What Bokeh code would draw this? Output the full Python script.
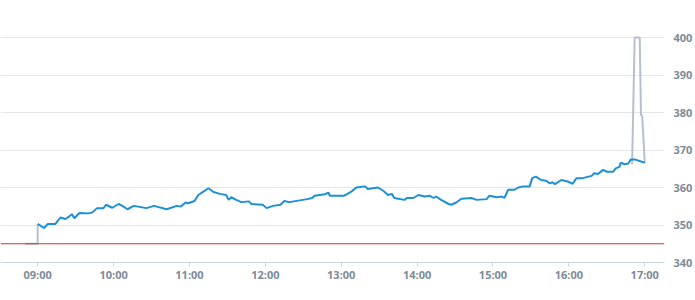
import pandas as pd
from bokeh.plotting import figure
from bokeh.models import Range1d, FixedTicker, DatetimeTickFormatter, Span
from bokeh.embed import file_html
from bokeh.resources import INLINE

DAY = "2024-01-02 "

# main price series (blue)
price_times = [
    "09:00", "09:05", "09:08", "09:14", "09:18", "09:22", "09:25", "09:27", "09:29", "09:33",
    "09:40", "09:43", "09:47", "09:52", "09:54", "09:59", "10:04", "10:07", "10:11", "10:16",
    "10:26", "10:32", "10:42", "10:50", "10:53", "10:57", "10:59", "11:04", "11:07", "11:11",
    "11:15", "11:19", "11:24", "11:29", "11:31", "11:33", "11:37", "11:41", "11:47", "11:49",
    "11:58", "12:01", "12:06", "12:12", "12:15", "12:19", "12:26", "12:33", "12:37", "12:39",
    "12:47", "12:50", "12:51", "13:02", "13:05", "13:08", "13:12", "13:19", "13:21", "13:29",
    "13:33", "13:37", "13:40", "13:42", "13:50", "13:52", "13:57", "14:01", "14:06", "14:10",
    "14:13", "14:15", "14:19", "14:25", "14:27", "14:31", "14:35", "14:43", "14:47", "14:55",
    "14:57", "15:03", "15:07", "15:09", "15:12", "15:17", "15:20", "15:24", "15:29", "15:31",
    "15:34", "15:38", "15:42", "15:45", "15:47", "15:49", "15:54", "15:59", "16:03", "16:06",
    "16:11", "16:18", "16:20", "16:23", "16:27", "16:30", "16:35", "16:37", "16:40", "16:41",
    "16:44", "16:47", "16:49", "16:52", "17:00",
]
price_values = [
    350.3, 349.2, 350.3, 350.3, 352.0, 351.6, 352.3, 352.9, 351.8, 353.2,
    353.1, 353.3, 354.5, 354.5, 355.4, 354.6, 355.6, 355.1, 354.2, 355.1,
    354.5, 355.1, 354.2, 355.1, 354.9, 356.0, 355.8, 356.4, 358.0, 358.9,
    359.8, 358.8, 358.3, 358.0, 356.7, 357.4, 356.7, 356.1, 356.3, 355.6,
    355.4, 354.5, 355.1, 355.4, 356.4, 356.1, 356.5, 356.9, 357.2, 357.8,
    358.2, 358.6, 357.8, 357.8, 358.3, 358.9, 360.0, 360.3, 359.6, 360.0,
    359.2, 358.0, 358.3, 357.2, 356.7, 357.2, 357.2, 358.0, 357.6, 357.8,
    357.2, 357.6, 356.7, 355.6, 355.4, 356.0, 357.0, 357.2, 356.7, 356.9,
    357.8, 357.4, 357.6, 357.2, 359.4, 359.4, 360.0, 360.3, 360.3, 362.5,
    362.9, 362.0, 361.8, 361.1, 361.4, 360.9, 362.0, 361.6, 361.0, 362.5,
    362.5, 363.1, 363.8, 363.6, 364.7, 364.2, 364.2, 365.1, 365.5, 366.6,
    366.2, 366.4, 367.5, 367.5, 366.6,
]

# auction / off-hours series (grey)
pre_times = ["08:50", "09:00", "09:00"]
pre_values = [345.0, 345.0, 350.3]
post_times = ["16:50", "16:52", "16:56", "16:57", "16:58", "17:00"]
post_values = [366.2, 400.0, 400.0, 379.4, 379.0, 366.6]

reference_level = 345.0
y_ticks = [340, 350, 360, 370, 380, 390, 400]
x_tick_labels = ["09:00", "10:00", "11:00", "12:00", "13:00", "14:00", "15:00", "16:00", "17:00"]


def to_dt(ts):
    return pd.to_datetime([DAY + t for t in ts])


p = figure(width=695, height=300, x_axis_type="datetime", y_axis_location="right",
           output_backend="svg", toolbar_location=None,
           x_range=Range1d(pd.Timestamp(DAY + "08:30:36"), pd.Timestamp(DAY + "17:15:36")),
           y_range=Range1d(340, 407.2),
           min_border_left=0, min_border_right=0, min_border_top=10, min_border_bottom=38)
p.outline_line_color = None
p.background_fill_color = "white"
p.border_fill_color = "white"

grey = "#b5c2cd"
blue = "#1e90d6"

p.line(to_dt(pre_times), pre_values, line_color=grey, line_width=2)
p.line(to_dt(post_times), post_values, line_color=grey, line_width=2)
p.line(to_dt(price_times), price_values, line_color=blue, line_width=2)

p.add_layout(Span(location=reference_level, dimension="width", line_color="#d0312d", line_width=1))

label_color = "#7e8b97"
font = "Open Sans"

xa = p.xaxis[0]
xa.ticker = FixedTicker(ticks=[pd.Timestamp(DAY + t).value / 1e6 for t in x_tick_labels])
xa.formatter = DatetimeTickFormatter(hours="%H:%M", hourmin="%H:%M", minutes="%H:%M",
                                     days="%H:%M", minsec="%H:%M")
xa.axis_line_color = "#ccd6e0"
xa.major_tick_line_color = "#ccd6e0"
xa.major_tick_out = 4
xa.major_tick_in = 0
xa.minor_tick_line_color = None
xa.major_label_standoff = 0
xa.major_label_text_color = label_color
xa.major_label_text_font = font
xa.major_label_text_font_size = "11px"
xa.major_label_text_font_style = "bold"

ya = p.yaxis[0]
ya.ticker = FixedTicker(ticks=y_ticks)
ya.axis_line_color = None
ya.major_tick_line_color = None
ya.minor_tick_line_color = None
ya.major_tick_out = 0
ya.major_tick_in = 0
ya.major_label_standoff = 9
ya.major_label_text_color = label_color
ya.major_label_text_font = font
ya.major_label_text_font_size = "11px"
ya.major_label_text_font_style = "bold"

p.xgrid.grid_line_color = None
p.ygrid.grid_line_color = "#e6e6e6"
p.ygrid.ticker = FixedTicker(ticks=y_ticks[1:])

open("out.html", "w").write(file_html(p, INLINE))
